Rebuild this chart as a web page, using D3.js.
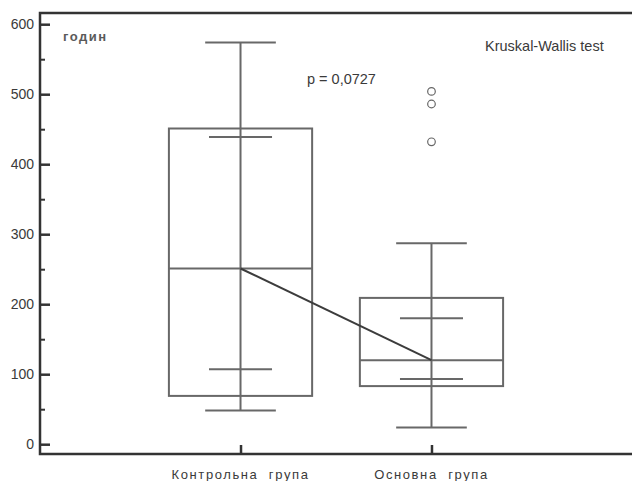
<!DOCTYPE html>
<html>
<head>
<meta charset="utf-8">
<script src="https://cdn.jsdelivr.net/npm/d3@7"></script>
<style>
  body { margin: 0; background: #fff; }
  text { font-family: "Liberation Sans", Arial, sans-serif; fill: #3a3a3a; }
</style>
</head>
<body>
<div id="chart"></div>
<script>
// data
var groups = ["Контрольна  група", "Основна  група"];
var whiskerLow = [48, 24];
var ciLow = [107, 93];
var q1 = [69, 83];
var median = [251, 120];
var q3 = [451, 209];
var ciHigh = [439, 180];
var whiskerHigh = [574, 287];
var outliers = [[], [504, 486, 432]];
var yTicks = [0, 100, 200, 300, 400, 500, 600];
var yMinor = [50, 150, 250, 350, 450, 550];

var width = 632, height = 481;
var margin = {top: 13, right: 0, bottom: 27, left: 40};

var svg = d3.select("#chart")
    .append("svg")
    .attr("width", width)
    .attr("height", height);

// scales
var y = d3.scaleLinear()
    .domain([-14, 616])
    .range([height - margin.bottom, margin.top]);

var x = d3.scalePoint()
    .domain(groups)
    .range([margin.left, width - margin.right])
    .padding(1.05);

var step = x.step();
var boxW = step * 0.75, capW = step * 0.37, ciW = step * 0.33;

var data = groups.map(function(g, i) {
    return {g: g, lo: whiskerLow[i], cl: ciLow[i], q1: q1[i], med: median[i],
            q3: q3[i], ch: ciHigh[i], hi: whiskerHigh[i], out: outliers[i]};
});

var boxColor = "#686868";

// whisker stems (drawn through the box)
svg.selectAll(".stem")
    .data(data).enter().append("line")
    .attr("x1", function(d) { return x(d.g); })
    .attr("x2", function(d) { return x(d.g); })
    .attr("y1", function(d) { return y(d.lo); })
    .attr("y2", function(d) { return y(d.hi); })
    .attr("stroke", boxColor).attr("stroke-width", 2);

// boxes
svg.selectAll(".box")
    .data(data).enter().append("rect")
    .attr("x", function(d) { return x(d.g) - boxW / 2; })
    .attr("y", function(d) { return y(d.q3); })
    .attr("width", boxW)
    .attr("height", function(d) { return y(d.q1) - y(d.q3); })
    .attr("fill", "none")
    .attr("stroke", boxColor).attr("stroke-width", 2);

// median lines
svg.selectAll(".med")
    .data(data).enter().append("line")
    .attr("x1", function(d) { return x(d.g) - boxW / 2; })
    .attr("x2", function(d) { return x(d.g) + boxW / 2; })
    .attr("y1", function(d) { return y(d.med); })
    .attr("y2", function(d) { return y(d.med); })
    .attr("stroke", boxColor).attr("stroke-width", 2);

// caps: whiskers and inner ones
var caps = [];
data.forEach(function(d) {
    caps.push({g: d.g, v: d.lo, w: capW});
    caps.push({g: d.g, v: d.hi, w: capW});
    caps.push({g: d.g, v: d.cl, w: ciW});
    caps.push({g: d.g, v: d.ch, w: ciW});
});
svg.selectAll(".cap")
    .data(caps).enter().append("line")
    .attr("x1", function(d) { return x(d.g) - d.w / 2; })
    .attr("x2", function(d) { return x(d.g) + d.w / 2; })
    .attr("y1", function(d) { return y(d.v); })
    .attr("y2", function(d) { return y(d.v); })
    .attr("stroke", boxColor).attr("stroke-width", 2);

// line joining medians
svg.append("path")
    .datum(data)
    .attr("fill", "none")
    .attr("stroke", "#3c3c3c")
    .attr("stroke-width", 2)
    .attr("d", d3.line()
        .x(function(d) { return x(d.g); })
        .y(function(d) { return y(d.med); }));

// outliers
var pts = [];
data.forEach(function(d) { d.out.forEach(function(v) { pts.push({g: d.g, v: v}); }); });
svg.selectAll(".out")
    .data(pts).enter().append("circle")
    .attr("cx", function(d) { return x(d.g); })
    .attr("cy", function(d) { return y(d.v); })
    .attr("r", 3.8)
    .attr("fill", "#fff")
    .attr("stroke", "#666").attr("stroke-width", 1.2);

// y axis
var yAxis = svg.append("g")
    .attr("transform", "translate(" + margin.left + ",0)")
    .call(d3.axisLeft(y).tickValues(yTicks).tickSizeInner(-10).tickSizeOuter(0).tickPadding(6));
yAxis.select(".domain").remove();
yAxis.selectAll(".tick line").attr("stroke", "#333").attr("stroke-width", 2.5);
yAxis.selectAll(".tick text")
    .style("font-size", "14px")
    .style("font-family", "Liberation Sans, Arial, sans-serif")
    .style("fill", "#3a3a3a");

svg.append("g")
    .attr("transform", "translate(" + margin.left + ",0)")
    .call(d3.axisLeft(y).tickValues(yMinor).tickSizeInner(-5).tickSizeOuter(0).tickFormat(""))
    .call(function(g) { g.select(".domain").remove(); })
    .selectAll(".tick line").attr("stroke", "#333").attr("stroke-width", 2);

// x axis ticks (pointing up)
var xAxis = svg.append("g")
    .attr("transform", "translate(0," + (height - margin.bottom) + ")")
    .call(d3.axisBottom(x).tickSizeInner(-9).tickSizeOuter(0).tickFormat(""));
xAxis.select(".domain").remove();
xAxis.selectAll(".tick line").attr("stroke", "#333").attr("stroke-width", 2.5);

// frame lines
svg.append("path")
    .attr("fill", "none")
    .attr("stroke", "#333")
    .attr("stroke-width", 2.5)
    .attr("d", "M" + (width - margin.right) + "," + y(616) +
               "H" + margin.left +
               "V" + y(-14) +
               "H" + (width - margin.right));

// category labels
svg.selectAll(".xlab")
    .data(groups).enter().append("text")
    .attr("x", function(d) { return x(d); })
    .attr("y", 479)
    .attr("text-anchor", "middle")
    .style("font-size", "13px")
    .style("letter-spacing", "1.6px")
    .style("white-space", "pre")
    .text(function(d) { return d; });

// annotations
svg.append("text")
    .attr("x", 63).attr("y", 41)
    .style("font-size", "13px")
    .style("font-weight", "bold")
    .style("letter-spacing", "1.5px")
    .style("fill", "#5a5a5a")
    .text("годин");

svg.append("text")
    .attr("x", 485).attr("y", 51)
    .style("font-size", "14.5px")
    .text("Kruskal-Wallis test");

svg.append("text")
    .attr("x", 307).attr("y", 84)
    .style("font-size", "14.5px")
    .text("p = 0,0727");
</script>
</body>
</html>
